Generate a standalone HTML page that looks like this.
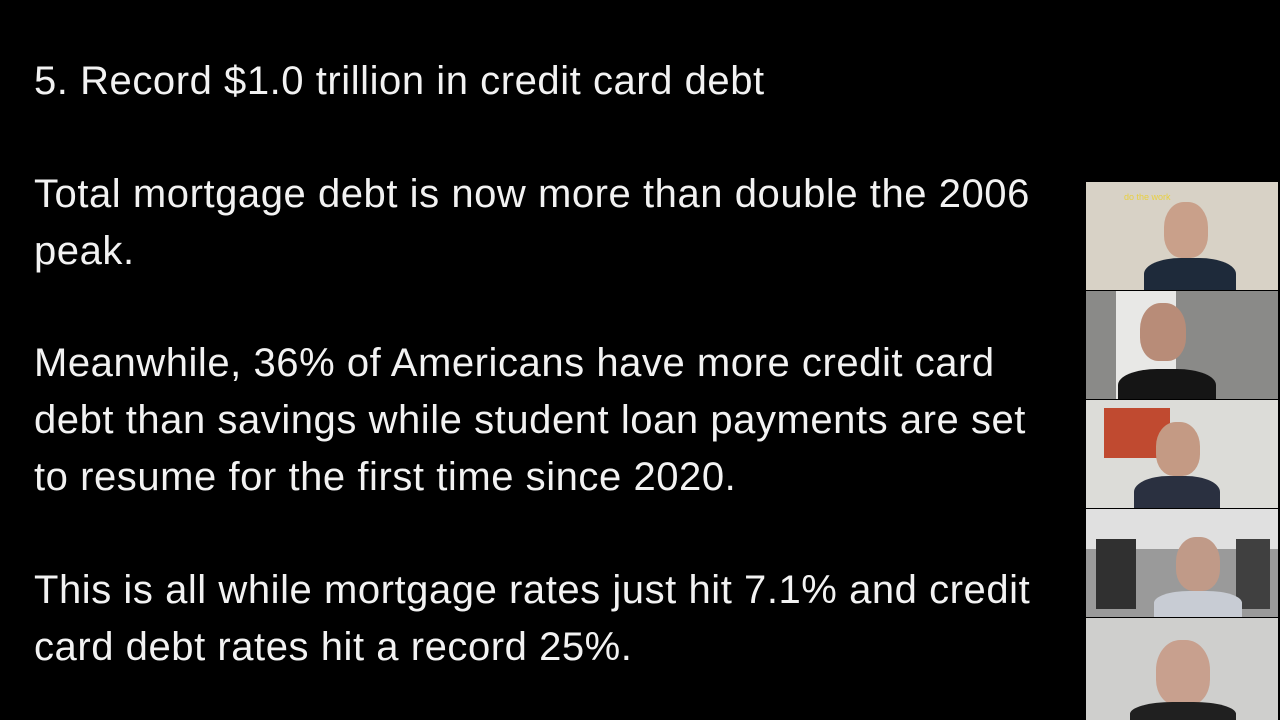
<!DOCTYPE html>
<html><head><meta charset="utf-8"><style>
body{margin:0;width:1280px;height:720px;background:#000;overflow:hidden;position:relative;font-family:"Liberation Sans",sans-serif;color:#f2f2f2}
.t{position:absolute;left:34px;font-size:40px;line-height:57px;white-space:nowrap;letter-spacing:0.55px}
.tile{position:absolute;left:1086px;width:192px;overflow:hidden}
.head{position:absolute;border-radius:45% 45% 40% 40%;background:#c9a08a}
.body{position:absolute;border-radius:40% 40% 0 0}
</style></head><body>
<div class="t" style="top:53px">5. Record $1.0 trillion in credit card debt</div>
<div class="t" style="top:166px">Total mortgage debt is now more than double the 2006<br>peak.</div>
<div class="t" style="top:335px">Meanwhile, 36% of Americans have more credit card<br>debt than savings while student loan payments are set<br>to resume for the first time since 2020.</div>
<div class="t" style="top:562px">This is all while mortgage rates just hit 7.1% and credit<br>card debt rates hit a record 25%.</div>

<div class="tile" style="top:182px;height:108px;background:#d8d2c6">
 <div style="position:absolute;left:38px;top:10px;color:#e8d040;font-size:9px">do the work</div>
 <div class="head" style="left:78px;top:20px;width:44px;height:56px"></div>
 <div class="body" style="left:58px;top:76px;width:92px;height:40px;background:#1e2a3a"></div>
</div>
<div class="tile" style="top:291px;height:108px;background:#8a8a88">
 <div style="position:absolute;left:30px;top:0;width:60px;height:108px;background:#e8e8e6"></div>
 <div class="head" style="left:54px;top:12px;width:46px;height:58px;background:#b88c78"></div>
 <div class="body" style="left:32px;top:78px;width:98px;height:40px;background:#151515"></div>
</div>
<div class="tile" style="top:400px;height:108px;background:#dcdcd8">
 <div style="position:absolute;left:18px;top:8px;width:66px;height:50px;background:#c04a30"></div>
 <div class="head" style="left:70px;top:22px;width:44px;height:54px;background:#c49a84"></div>
 <div class="body" style="left:48px;top:76px;width:86px;height:40px;background:#2a3040"></div>
</div>
<div class="tile" style="top:509px;height:108px;background:#9a9a9a">
 <div style="position:absolute;left:0;top:0;width:192px;height:40px;background:#e0e0e0"></div>
 <div style="position:absolute;left:10px;top:30px;width:40px;height:70px;background:#303030"></div>
 <div style="position:absolute;left:150px;top:30px;width:34px;height:70px;background:#404040"></div>
 <div class="head" style="left:90px;top:28px;width:44px;height:54px;background:#c09a88"></div>
 <div class="body" style="left:68px;top:82px;width:88px;height:30px;background:#c8ccd4"></div>
</div>
<div class="tile" style="top:618px;height:102px;background:#cfcfcd">
 <div class="head" style="left:70px;top:22px;width:54px;height:66px;background:#c8a08e"></div>
 <div class="body" style="left:44px;top:84px;width:106px;height:30px;background:#202020"></div>
</div>
</body></html>
